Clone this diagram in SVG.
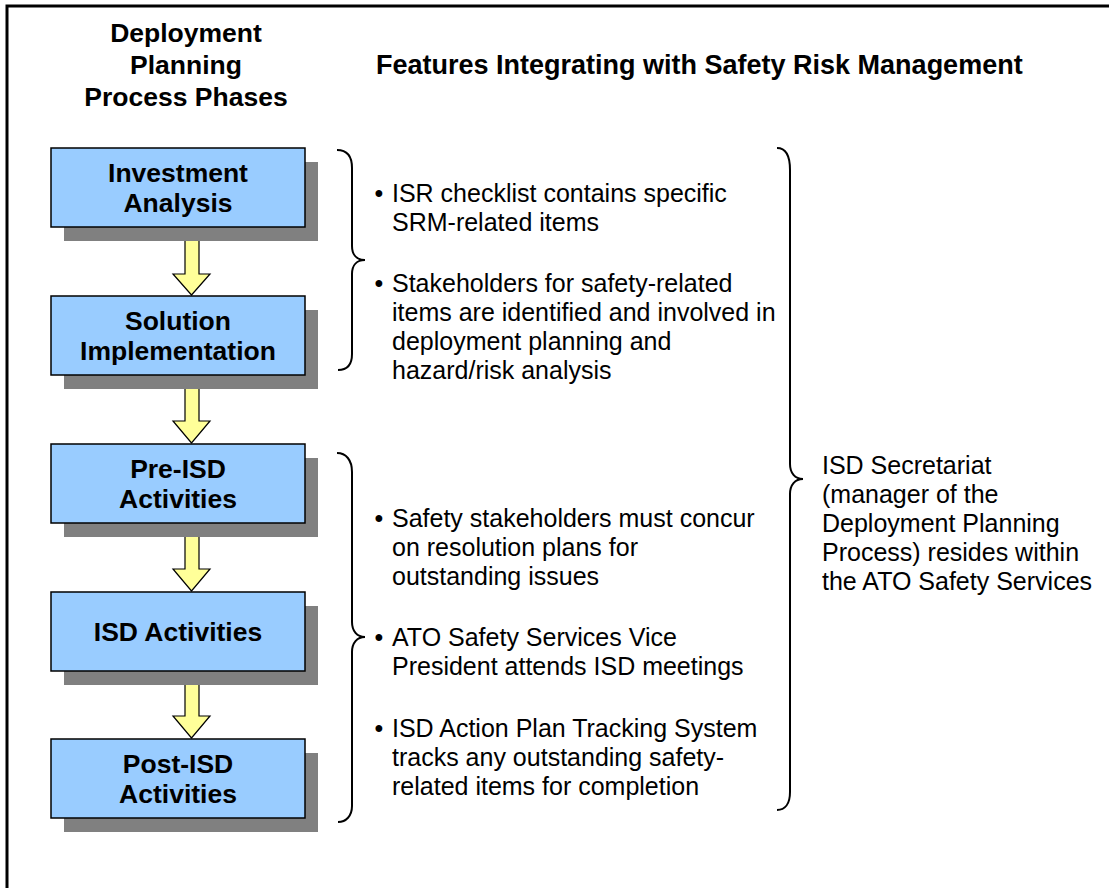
<svg xmlns="http://www.w3.org/2000/svg" width="1109" height="888" viewBox="0 0 1109 888">
<defs>
<style>
.hdr{font-family:"Liberation Sans",Arial,sans-serif;font-weight:bold;font-size:26.5px;fill:#000}
.ttl{font-size:27px}
.mid{text-anchor:middle}
.txt{font-family:"Liberation Sans",Arial,sans-serif;font-size:25px;fill:#000}
.box{fill:#99CCFF;stroke:#000;stroke-width:1.5}
.shadow{fill:#808080}
.arrow{fill:#FFFF99;stroke:#000;stroke-width:1.2;stroke-linejoin:miter}
.brace{fill:none;stroke:#000;stroke-width:2}
</style>
</defs>
<rect width="1109" height="888" fill="#fff"/>
<path d="M7,888 V6 H1109" fill="none" stroke="#000" stroke-width="3"/>

<g id="headers">
<text class="hdr mid" x="186" y="42">Deployment</text>
<text class="hdr mid" x="186" y="74">Planning</text>
<text class="hdr mid" x="186" y="106">Process Phases</text>
<text class="hdr ttl" x="376" y="74">Features Integrating with Safety Risk Management</text>
</g>

<g id="connectors">
<polygon class="arrow" points="185,228 199,228 199,274 210,274 191.5,295 173,274 185,274"/>
<polygon class="arrow" points="185,375 199,375 199,421 210,421 191.5,443 173,421 185,421"/>
<polygon class="arrow" points="185,523 199,523 199,569 210,569 191.5,591 173,569 185,569"/>
<polygon class="arrow" points="185,671 199,671 199,716 210,716 191.5,738 173,716 185,716"/>
</g>

<g id="node-investment">
<rect class="shadow" x="64" y="162" width="254" height="79"/>
<rect class="box" x="51" y="148" width="254" height="79"/>
<text class="hdr mid" x="178" y="182">Investment</text>
<text class="hdr mid" x="178" y="212">Analysis</text>
</g>
<g id="node-solution">
<rect class="shadow" x="64" y="310" width="254" height="79"/>
<rect class="box" x="51" y="296" width="254" height="79"/>
<text class="hdr mid" x="178" y="330">Solution</text>
<text class="hdr mid" x="178" y="360">Implementation</text>
</g>
<g id="node-preisd">
<rect class="shadow" x="64" y="458" width="254" height="79"/>
<rect class="box" x="51" y="444" width="254" height="79"/>
<text class="hdr mid" x="178" y="478">Pre-ISD</text>
<text class="hdr mid" x="178" y="508">Activities</text>
</g>
<g id="node-isd">
<rect class="shadow" x="64" y="606" width="254" height="79"/>
<rect class="box" x="51" y="592" width="254" height="79"/>
<text class="hdr mid" x="178" y="641">ISD Activities</text>
</g>
<g id="node-postisd">
<rect class="shadow" x="64" y="753" width="254" height="79"/>
<rect class="box" x="51" y="739" width="254" height="79"/>
<text class="hdr mid" x="178" y="773">Post-ISD</text>
<text class="hdr mid" x="178" y="803">Activities</text>
</g>

<g id="braces">
<path class="brace" d="M337,150 C347,150 352,156 352,168 L352,246 C352,255 357,260 365,260 C357,260 352,265 352,274 L352,354 C352,365 347,370 338,370"/>
<path class="brace" d="M337,453 C346,453 352,460 352,472 L352,622 C352,631 357,637 365,637 C357,637 352,643 352,652 L352,806 C352,816 346,822 338,822"/>
<path class="brace" d="M777,148 C786,148 790,156 790,170 L790,464 C790,473 795,479 803,479 C795,479 790,485 790,494 L790,792 C790,804 785,810 777,810"/>
</g>

<g id="features-upper">
<text class="txt mid" x="379" y="202">•</text>
<text class="txt" x="392" y="202">ISR checklist contains specific</text>
<text class="txt" x="392" y="231">SRM-related items</text>
<text class="txt mid" x="379" y="292">•</text>
<text class="txt" x="392" y="292">Stakeholders for safety-related</text>
<text class="txt" x="392" y="321">items are identified and involved in</text>
<text class="txt" x="392" y="350">deployment planning and</text>
<text class="txt" x="392" y="379">hazard/risk analysis</text>
</g>

<g id="features-lower">
<text class="txt mid" x="379" y="527">•</text>
<text class="txt" x="392" y="527">Safety stakeholders must concur</text>
<text class="txt" x="392" y="556">on resolution plans for</text>
<text class="txt" x="392" y="585">outstanding issues</text>
<text class="txt mid" x="379" y="646">•</text>
<text class="txt" x="392" y="646">ATO Safety Services Vice</text>
<text class="txt" x="392" y="675">President attends ISD meetings</text>
<text class="txt mid" x="379" y="737">•</text>
<text class="txt" x="392" y="737">ISD Action Plan Tracking System</text>
<text class="txt" x="392" y="766">tracks any outstanding safety-</text>
<text class="txt" x="392" y="795">related items for completion</text>
</g>

<g id="secretariat">
<text class="txt" x="822" y="474">ISD Secretariat</text>
<text class="txt" x="822" y="503">(manager of the</text>
<text class="txt" x="822" y="532">Deployment Planning</text>
<text class="txt" x="822" y="561">Process) resides within</text>
<text class="txt" x="822" y="590">the ATO Safety Services</text>
</g>
</svg>
